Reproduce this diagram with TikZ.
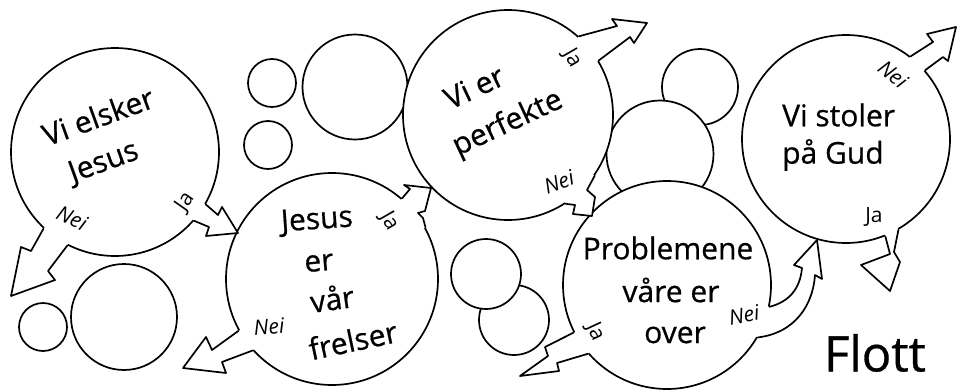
\documentclass[tikz,border=0pt]{standalone}
\usepackage{fontspec}
\setmainfont{Open Sans}
\newfontfamily\heavyfont{Open Sans}[FakeBold=0.6]
\usetikzlibrary{calc}
\newcommand\bubtail[4]{%
  \fill[white] (#1.center) -- (#1.#2) #4 (#1.#3) -- cycle;
  \draw[tailline] (#1.#2) #4 (#1.#3);
}
\begin{document}
\begin{tikzpicture}[x=1pt,y=-1pt,
  ring/.style={circle,draw=black,fill=white,line width=1.7pt,inner sep=0pt},
  tailline/.style={draw=black,line width=1.7pt,line join=round,line cap=round},
  maintext/.style={font=\heavyfont\fontsize{30}{32}\selectfont,inner sep=0pt},
  lbl/.style={font=\fontsize{21}{22}\selectfont\itshape,inner sep=0pt},
  lblj/.style={font=\fontsize{21}{22}\selectfont,inner sep=0pt}]
\useasboundingbox (0,0) rectangle (959,391);
\fill[white] (0,0) rectangle (959,391);

% decorative circles
\node[ring,minimum size=48pt] (s1) at (43,327) {};
\node[ring,minimum size=106pt] (s2) at (124,317) {};
\node[ring,minimum size=48pt] (s3) at (272,83) {};
\node[ring,minimum size=48pt] (s4) at (268,145) {};
\node[ring,minimum size=105pt] (s5) at (355,87) {};
\node[ring,minimum size=76pt] (t) at (700,87) {};
\node[ring,minimum size=107pt] (k) at (660,154) {};
\node[ring,minimum size=70pt] (p2) at (514,320) {};
\node[ring,minimum size=70pt] (p1) at (486,274) {};

% main circles
\node[ring,minimum size=208pt] (A) at (115,152) {};
\node[ring,minimum size=212pt] (B) at (332,279) {};
\node[ring,minimum size=210pt] (C) at (508,115) {};
\node[ring,minimum size=208pt] (D) at (667,285) {};
\node[ring,minimum size=208pt] (E) at (846,139) {};

% arrow tips
\coordinate (tA1) at (11,296);
\coordinate (tA2) at (238,233);
\coordinate (tB1) at (431,188);
\coordinate (tB2) at (183,368);
\coordinate (tC1) at (647,23);
\coordinate (tC2) at (592,216);
\coordinate (tD1) at (520,376);
\coordinate (tD2) at (817,240);
\coordinate (tE1) at (956,27);
\coordinate (tE2) at (890,291);

% bubble tails (zigzag arrows)
\bubtail{A}{-133}{-117}{-- (31,251) -- (21,247) -- (tA1) -- (55,280) -- (48,271) --}
\bubtail{A}{-30}{-41}{-- (218,215) -- (222,207) -- (tA2) -- (206,236) -- (209,227) --}
\bubtail{B}{49}{29}{-- (410,189) -- (404,185) -- (tB1) -- (425,211) -- (418,213) -- (423,218) --}
\bubtail{B}{-151}{-138}{-- (212,350) -- (206,337) -- (tB2) -- (226,373) -- (222,362) --}
\bubtail{C}{48}{31}{-- (617,26) -- (612,19) -- (tC1) -- (634,43) -- (630,37) --}
\bubtail{C}{-35}{-57}{-- (587,190) -- (595,197) -- (tC2) -- (573,214) -- (575,205) --}
\bubtail{D}{-153}{-139}{-- (545,347) -- (548,356) -- (tD1) -- (559,371) -- (557,363) --}
\bubtail{D}{-12}{-30}{.. controls (788,302) and (800,290) .. (802,268) -- (794,265) -- (tD2) -- (822,279) -- (815,275) .. controls (813,305) and (795,333) ..}
\bubtail{E}{52}{41}{-- (933,42) -- (927,34) -- (tE1) -- (948,61) -- (943,57) --}
\bubtail{E}{-68}{-60}{-- (890,254) -- (861,265) -- (tE2) -- (900,262) -- (894,252) --}

% main texts
\node[maintext,rotate=20] (a1) at (98,116) {Vi elsker};
\node[maintext,rotate=20] (a2) at (104,163) {Jesus};
\node[maintext,rotate=4] (b1) at (317,221) {Jesus};
\node[maintext,rotate=5] (b2) at (319,263) {er};
\node[maintext,rotate=8] (b3) at (332,298) {vår};
\node[maintext,rotate=12] (b4) at (353,340) {frelser};
\node[maintext,rotate=25] (c1) at (474,87) {Vi er};
\node[maintext,rotate=25] (c2) at (508,124) {perfekte};
\node[maintext] (d1) at (668,248) {Problemene};
\node[maintext] (d2) at (671,290) {våre er};
\node[maintext] (d3) at (675,335) {over};
\node[maintext,anchor=west] (e1) at (782,115) {Vi stoler};
\node[maintext,anchor=west] (e2) at (782,155) {på Gud};
\node[font=\heavyfont\fontsize{49}{50}\selectfont,inner sep=0pt] (fl) at (875,353) {Flott};

% small labels
\node[lbl,rotate=-25] (la1) at (72,218) {Nei};
\node[lblj,rotate=55] (la2) at (185,202) {Ja};
\node[lblj,rotate=-60] (lb1) at (389,221) {Ja};
\node[lbl,rotate=5] (lb2) at (269,327) {Nei};
\node[lblj,rotate=-60] (lc1) at (572,58) {Ja};
\node[lbl,rotate=20] (lc2) at (559,182) {Nei};
\node[lblj,rotate=-65] (ld1) at (595,332) {Ja};
\node[lbl,rotate=10] (ld2) at (744,315) {Nei};
\node[lbl,rotate=-40] (le1) at (893,74) {Nei};
\node[lblj] (le2) at (874,217) {Ja};
\end{tikzpicture}
\end{document}
